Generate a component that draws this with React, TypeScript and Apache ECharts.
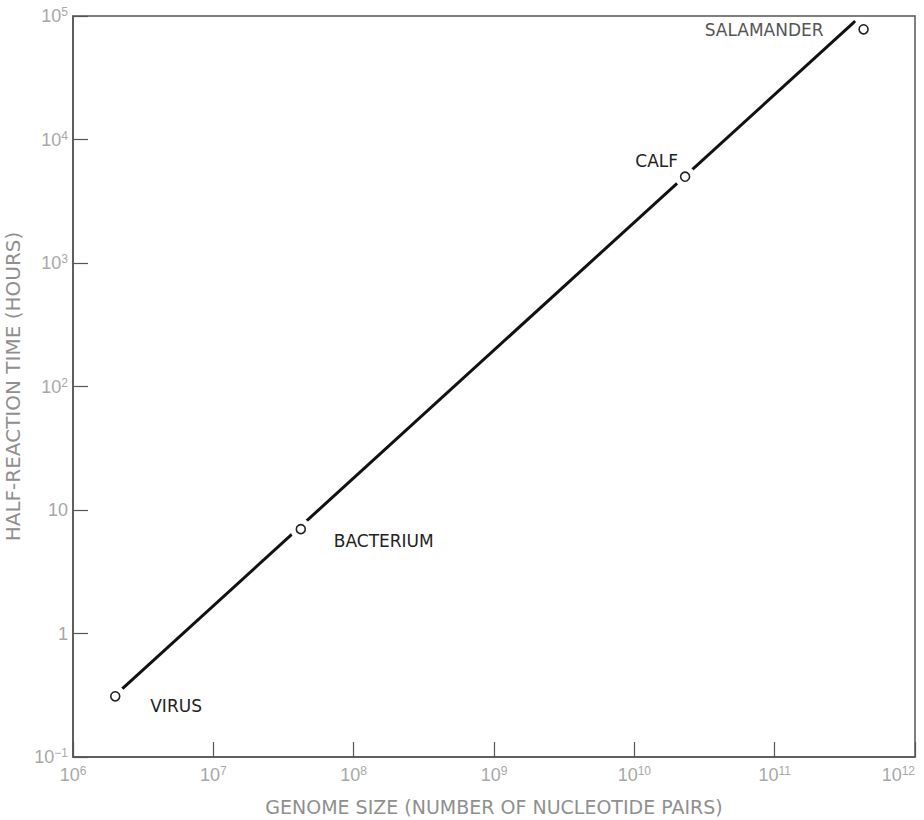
import React, { useEffect, useRef } from "react";
import * as echarts from "echarts";

const organisms = ["VIRUS", "BACTERIUM", "CALF", "SALAMANDER"];
const genomeSize = [2.0e6, 4.2e7, 2.3e10, 4.3e11];
const halfReactionHours = [0.31, 7.0, 5000, 78000];

const fitLineGenome = [2.24e6, 3.75e11];
const fitLineHours = [0.356, 91000];

const xTickExponents = [6, 7, 8, 9, 10, 11, 12];
const yTickExponents = [-1, 0, 1, 2, 3, 4, 5];

const labelLayouts: Record<string, { align: string; offset: number[]; color: string }> = {
  VIRUS: { align: "left", offset: [35, 10], color: "#222" },
  BACTERIUM: { align: "left", offset: [33, 12], color: "#222" },
  CALF: { align: "right", offset: [-7, -16], color: "#222" },
  SALAMANDER: { align: "right", offset: [-40, 1], color: "#555" },
};

function powLabel(v: number) {
  const e = Math.round(Math.log10(v));
  if (e === 0) return "{b|1}";
  if (e === 1) return "{b|10}";
  return "{b|10}{s|" + (e < 0 ? "\u2212" + Math.abs(e) : String(e)) + "}";
}

const tickRich = {
  b: { fontSize: 18, color: "#a8a8a8", fontFamily: "Liberation Sans", lineHeight: 20 },
  s: { fontSize: 12, color: "#a8a8a8", fontFamily: "Liberation Sans", verticalAlign: "top", lineHeight: 9 },
};

export default function App() {
  const ref = useRef<HTMLDivElement>(null);
  useEffect(() => {
    document.body.style.margin = "0";
    const chart = echarts.init(ref.current!, null, { renderer: "svg" });
    const points = organisms.map((name, i) => {
      const l = labelLayouts[name];
      return {
        name,
        value: [genomeSize[i], halfReactionHours[i]],
        label: {
          show: true,
          position: "inside",
          formatter: name,
          align: l.align,
          verticalAlign: "middle",
          offset: l.offset,
          color: l.color,
          fontSize: 17,
          fontFamily: "DejaVu Sans",
        },
      };
    });
    chart.setOption({
      animation: false,
      backgroundColor: "#ffffff",
      grid: {
        left: 73,
        top: 16,
        right: 9,
        bottom: 63,
        containLabel: false,
        outerBoundsMode: "none",
        show: true,
        borderColor: "#555",
        borderWidth: 1.5,
        backgroundColor: "transparent",
      },
      xAxis: {
        type: "log",
        logBase: 10,
        min: Math.pow(10, xTickExponents[0]),
        max: Math.pow(10, xTickExponents[xTickExponents.length - 1]),
        name: "GENOME SIZE (NUMBER OF NUCLEOTIDE PAIRS)",
        nameLocation: "middle",
        nameGap: 40,
        nameTextStyle: { color: "#8f8f8f", fontSize: 19, fontFamily: "DejaVu Sans" },
        axisLine: { show: true, lineStyle: { color: "#555", width: 1.5 } },
        axisTick: { show: true, inside: true, length: 15, lineStyle: { color: "#555", width: 1.2 } },
        minorTick: { show: false },
        splitLine: { show: false },
        axisLabel: {
          formatter: powLabel,
          rich: tickRich,
          margin: 8,
          fontSize: 18,
          color: "#a8a8a8",
          alignMaxLabel: "right",
        },
      },
      yAxis: {
        type: "log",
        logBase: 10,
        min: Math.pow(10, yTickExponents[0]),
        max: Math.pow(10, yTickExponents[yTickExponents.length - 1]),
        name: "HALF-REACTION TIME (HOURS)",
        nameLocation: "middle",
        nameGap: 33,
        nameRotate: 90,
        nameTextStyle: { color: "#8f8f8f", fontSize: 20, fontFamily: "DejaVu Sans" },
        axisLine: { show: true, lineStyle: { color: "#555", width: 1.5 } },
        axisTick: { show: true, inside: true, length: 15, lineStyle: { color: "#555", width: 1.2 } },
        splitLine: { show: false },
        axisLabel: { formatter: powLabel, rich: tickRich, margin: 5, fontSize: 18, color: "#a8a8a8" },
      },
      series: [
        {
          type: "line",
          z: 1,
          data: fitLineGenome.map((x, i) => [x, fitLineHours[i]]),
          showSymbol: false,
          lineStyle: { color: "#111", width: 3 },
          silent: true,
        },
        {
          type: "scatter",
          z: 10,
          data: organisms.map((_, i) => [genomeSize[i], halfReactionHours[i]]),
          symbol: "circle",
          symbolSize: 21,
          itemStyle: { color: "#ffffff", opacity: 1 },
          silent: true,
        },
        {
          type: "scatter",
          z: 11,
          data: points,
          symbol: "circle",
          symbolSize: 9,
          itemStyle: { color: "#ffffff", borderColor: "#222", borderWidth: 1.6, opacity: 1 },
        },
      ],
    });
    return () => chart.dispose();
  }, []);
  return <div ref={ref} style={{ width: 924, height: 820 }} />;
}
